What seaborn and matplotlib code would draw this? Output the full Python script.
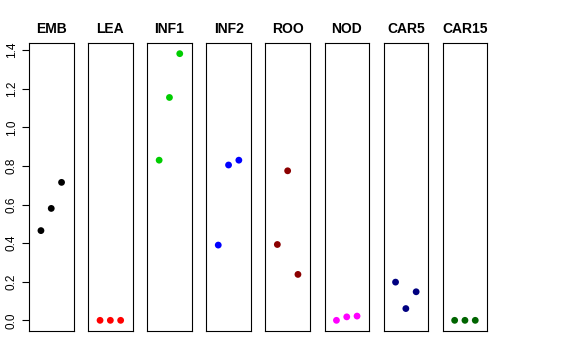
import pandas as pd
import matplotlib
matplotlib.use("Agg")
import matplotlib.pyplot as plt
import seaborn as sns

# tissue panels and their point colours
tissues = ["EMB", "LEA", "INF1", "INF2", "ROO", "NOD", "CAR5", "CAR15"]
colors = ["black", "red", "#00CD00", "blue", "#8B0000", "magenta", "#000080", "#006400"]

# three replicate values per tissue
emb = [0.465, 0.58, 0.715]
lea = [0.0, 0.0, 0.0]
inf1 = [0.83, 1.155, 1.382]
inf2 = [0.39, 0.805, 0.83]
roo = [0.393, 0.775, 0.238]
nod = [0.0, 0.018, 0.022]
car5 = [0.198, 0.061, 0.148]
car15 = [0.0, 0.0, 0.0]
replicate = [1, 2, 3]

values = [emb, lea, inf1, inf2, roo, nod, car5, car15]
rows = []
for t, vals in zip(tissues, values):
    for r, v in zip(replicate, vals):
        rows.append({"tissue": t, "rep": r, "value": v})
df = pd.DataFrame(rows)

sns.set_style("white")
plt.rcParams["font.family"] = ["Liberation Sans", "DejaVu Sans"]
plt.rcParams["text.color"] = "black"
plt.rcParams["ytick.color"] = "black"
plt.rcParams["xtick.color"] = "black"
plt.rcParams["axes.labelcolor"] = "black"

fig = plt.figure(figsize=(5.76, 3.6), dpi=100)
W, H = 576, 360
left0, step, pw = 29, 59.1, 44.5
top, bottom = 43, 331

for i, (t, c) in enumerate(zip(tissues, colors)):
    x0 = left0 + i * step
    ax = fig.add_axes([x0 / W, (H - bottom) / H, pw / W, (bottom - top) / H])
    sub = df[df["tissue"] == t]
    sns.scatterplot(data=sub, x="rep", y="value", ax=ax, color=c, s=24,
                    edgecolor="none", legend=False)
    ax.set_xlim(-0.16, 4.16)
    ax.set_ylim(-0.0553, 1.4373)
    ax.set_xticks([])
    ax.set_xlabel("")
    ax.set_ylabel("")
    ax.set_title(t, fontsize=10, fontweight="bold", pad=7, color="black")
    for sp in ax.spines.values():
        sp.set_color("black")
        sp.set_linewidth(0.8)
    if i == 0:
        ax.set_yticks([0, 0.2, 0.4, 0.6, 0.8, 1.0, 1.2, 1.4])
        ax.set_yticklabels(["0.0", "0.2", "0.4", "0.6", "0.8", "1.0", "1.2", "1.4"],
                           rotation=90, va="center", fontsize=8.5)
        ax.tick_params(axis="y", left=True, length=5, width=0.8, pad=3, colors="black")
    else:
        ax.set_yticks([])

fig.savefig("out.png", dpi=100)
